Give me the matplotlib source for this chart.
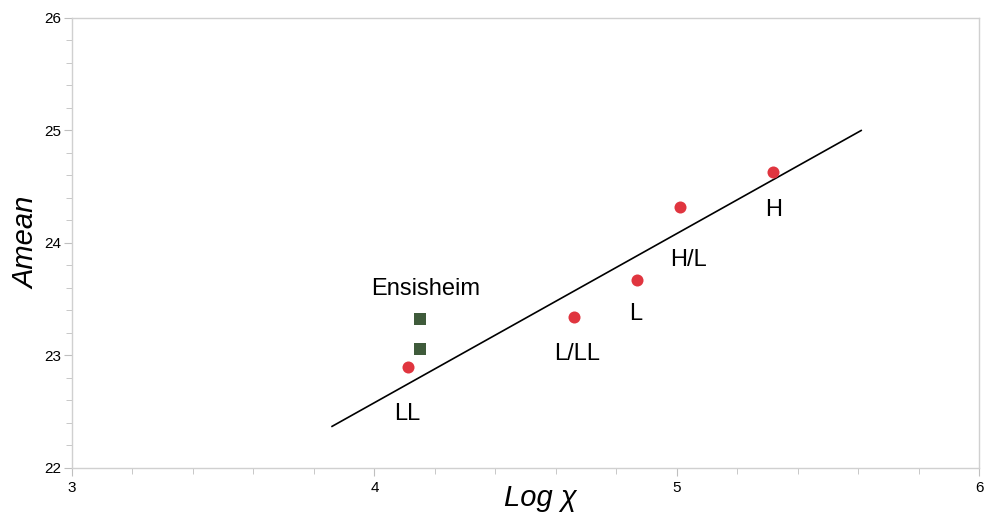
import matplotlib
matplotlib.use("Agg")
import matplotlib.pyplot as plt
from matplotlib.ticker import MultipleLocator

plt.rcParams["font.family"] = ["Liberation Sans", "DejaVu Sans"]

# chondrite groups
groups = ["LL", "L/LL", "L", "H/L", "H"]
log_chi = [4.11, 4.66, 4.87, 5.01, 5.32]
amean = [22.90, 23.34, 23.67, 24.32, 24.63]

# Ensisheim samples
ens_log_chi = [4.15, 4.15]
ens_amean = [23.32, 23.06]

# regression line end points
fit_x = [3.86, 5.61]
fit_y = [22.37, 25.00]

# label offsets (data units) for each group
label_dx = [0.0, 0.01, -0.005, 0.03, 0.0]
label_dy = [-0.42, -0.33, -0.30, -0.47, -0.34]

fig = plt.figure(figsize=(9.84, 5.14), dpi=100)
ax = fig.add_axes([0.0732, 0.0895, 0.9218, 0.8755])

ax.plot(fit_x, fit_y, color="black", linewidth=1.2, zorder=2)
ax.scatter(log_chi, amean, s=75, color="#e0353f", zorder=3, linewidths=0)
ax.scatter(ens_log_chi, ens_amean, s=75, marker="s", color="#3f5b3b", zorder=3, linewidths=0)

for g, x, y, dx, dy in zip(groups, log_chi, amean, label_dx, label_dy):
    ax.text(x + dx, y + dy, g, fontsize=17, ha="center", va="center")
ax.text(4.17, 23.59, "Ensisheim", fontsize=17, ha="center", va="center")

ax.set_xlim(3, 6)
ax.set_ylim(22, 26)
ax.xaxis.set_major_locator(MultipleLocator(1))
ax.xaxis.set_minor_locator(MultipleLocator(0.2))
ax.yaxis.set_major_locator(MultipleLocator(1))
ax.yaxis.set_minor_locator(MultipleLocator(0.2))

for side in ["left", "bottom", "top", "right"]:
    ax.spines[side].set_color("#d0d0d0")
    ax.spines[side].set_linewidth(1.0)
ax.tick_params(which="major", length=6, color="#bfbfbf", labelsize=11, direction="out")
ax.tick_params(which="minor", length=4, color="#bfbfbf", direction="out")
ax.tick_params(axis="y", pad=2)

ax.set_xlabel("Log χ", fontsize=21, style="italic")
ax.xaxis.set_label_coords(0.516, -0.035)
ax.set_ylabel("Amean", fontsize=21, style="italic")
ax.yaxis.set_label_coords(-0.035, 0.5)

fig.savefig("out.png", dpi=100)
